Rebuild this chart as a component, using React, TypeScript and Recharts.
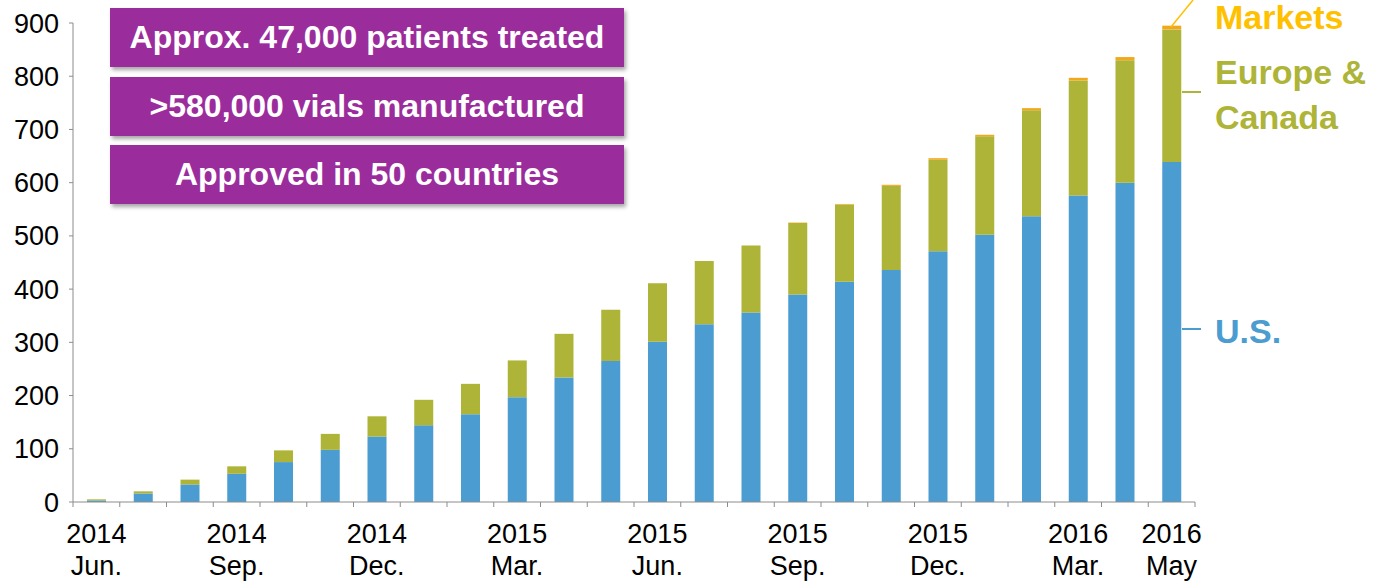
import React from "react";
import { Bar, BarChart, XAxis, YAxis } from "recharts";

// Monthly cumulative patients (hundreds), Jun 2014 → May 2016
const months = [
  "Jun14", "Jul14", "Aug14", "Sep14", "Oct14", "Nov14", "Dec14",
  "Jan15", "Feb15", "Mar15", "Apr15", "May15", "Jun15", "Jul15", "Aug15",
  "Sep15", "Oct15", "Nov15", "Dec15", "Jan16", "Feb16", "Mar16", "Apr16", "May16",
];
const usValues = [3, 16, 33, 53, 75, 98, 123, 144, 165, 197, 234, 265, 301, 334, 356, 390, 414, 436, 471, 502, 537, 576, 600, 639];
const europeCanadaValues = [2, 4, 9, 14, 22, 30, 38, 48, 57, 69, 82, 96, 110, 119, 126, 134, 145, 158, 172, 185, 199, 216, 230, 249];
const emergingValues = [0, 0, 0, 0, 0, 0, 0, 0, 0, 0, 0, 0, 0, 0, 0, 1, 1, 2, 3, 3, 4, 5, 6, 7];

// two-line tick labels, blank where nothing is printed
const tickYear = ["2014", "", "", "2014", "", "", "2014", "", "", "2015", "", "", "2015", "", "", "2015", "", "", "2015", "", "", "2016", "", "2016"];
const tickMonth = ["Jun.", "", "", "Sep.", "", "", "Dec.", "", "", "Mar.", "", "", "Jun.", "", "", "Sep.", "", "", "Dec.", "", "", "Mar.", "", "May"];

const yTicks = [0, 100, 200, 300, 400, 500, 600, 700, 800, 900];

const callouts = [
  "Approx. 47,000 patients treated",
  ">580,000 vials manufactured",
  "Approved in 50 countries",
];

const BLUE = "#4B9CD0";
const GREEN = "#ADB437";
const ORANGE = "#F2A81C";
const GOLD = "#FFC000";
const PURPLE = "#9B2C9C";
const AXIS = "#8c8c8c";
const FONT = "'Liberation Sans', Arial, sans-serif";

const data = months.map((m, i) => ({
  month: m,
  us: usValues[i],
  eu: europeCanadaValues[i],
  em: emergingValues[i],
}));

function MonthTick(props: any) {
  const { x, y, payload, index, width, visibleTicksCount } = props;
  const half = payload?.offset || width / visibleTicksCount / 2;
  const isLast = index === visibleTicksCount - 1;
  return (
    <g>
      <line x1={x - half} x2={x - half} y1={y} y2={y + 5} stroke={AXIS} />
      {isLast && <line x1={x + half} x2={x + half} y1={y} y2={y + 5} stroke={AXIS} />}
      <text textAnchor="middle" fill="#000" fontSize={27} fontFamily={FONT}>
        <tspan x={x} y={y + 41}>{tickYear[index]}</tspan>
        <tspan x={x} y={y + 73}>{tickMonth[index]}</tspan>
      </text>
    </g>
  );
}

export default function App() {
  return (
    <div style={{ position: "absolute", left: 0, top: 0, width: 1399, height: 582, background: "#fff" }}>
      <BarChart
        width={1399}
        height={582}
        data={data}
        margin={{ top: 23, right: 204, bottom: 0, left: 0 }}
      >
        <XAxis
          dataKey="month"
          interval={0}
          height={80}
          tickSize={0}
          tickMargin={0}
          tickLine={false}
          axisLine={{ stroke: AXIS }}
          tick={<MonthTick />}
        />
        <YAxis
          type="number"
          domain={[0, 900]}
          ticks={yTicks}
          width={73}
          tickSize={4}
          tickMargin={10}
          axisLine={{ stroke: AXIS }}
          tickLine={{ stroke: AXIS }}
          tick={{ fontSize: 27, fill: "#000", fontFamily: FONT }}
        />
        <Bar dataKey="us" stackId="a" fill={BLUE} barSize={19} isAnimationActive={false} />
        <Bar dataKey="eu" stackId="a" fill={GREEN} barSize={19} isAnimationActive={false} />
        <Bar dataKey="em" stackId="a" fill={ORANGE} barSize={19} isAnimationActive={false} />
      </BarChart>

      {callouts.map((t, i) => (
        <div
          key={t}
          style={{
            position: "absolute",
            left: 110,
            top: 8 + i * 68.5,
            width: 514,
            height: 59,
            background: PURPLE,
            color: "#fff",
            fontFamily: FONT,
            fontWeight: 700,
            fontSize: 32,
            display: "flex",
            alignItems: "center",
            justifyContent: "center",
            boxShadow: "2px 3px 4px rgba(0,0,0,0.35)",
          }}
        >
          {t}
        </div>
      ))}

      <svg width={1399} height={582} style={{ position: "absolute", left: 0, top: 0, pointerEvents: "none" }}>
        <line x1={1171} y1={27} x2={1193} y2={0} stroke={GOLD} strokeWidth={1.5} />
        <line x1={1182} y1={92} x2={1201} y2={92} stroke={GREEN} strokeWidth={2} />
        <line x1={1182} y1={329} x2={1201} y2={329} stroke={BLUE} strokeWidth={2} />
        <g fontFamily={FONT} fontWeight={700} fontSize={34}>
          <text x={1215} y={29} fill={GOLD}>Markets</text>
          <text x={1215} y={84} fill={GREEN}>Europe &amp;</text>
          <text x={1215} y={129} fill={GREEN}>Canada</text>
          <text x={1215} y={343} fill={BLUE}>U.S.</text>
        </g>
      </svg>
    </div>
  );
}
